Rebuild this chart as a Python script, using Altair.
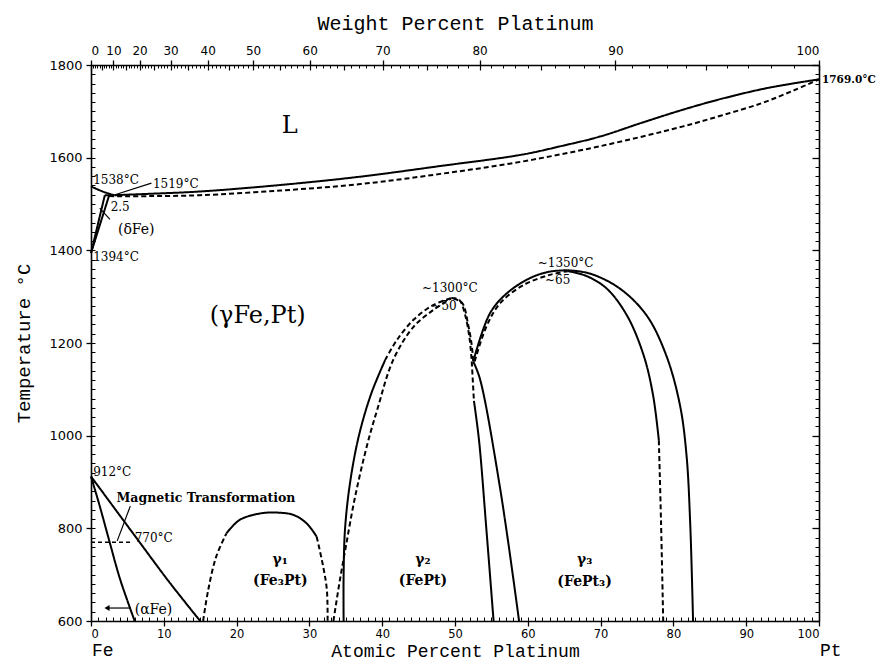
import altair as alt
import pandas as pd

FE, PT = 55.845, 195.08  # atomic masses used for the weight-percent axis

# ---------------- phase boundary curves (x = at.% Pt, T = deg C) ----------------
liq_fe_x = [0, 1.6, 3.2]
liq_fe_T = [1538, 1527, 1519]
liq_x = [3.2, 8, 15, 26, 37, 48, 59, 64.6, 70, 75.6, 81.2, 86.6, 92.2, 96, 100]
liq_T = [1519, 1522, 1527, 1541, 1559, 1582, 1606, 1625, 1646, 1675, 1703, 1727, 1748, 1759, 1769]
sol_x = [2.5, 8, 15, 26, 37, 48, 59, 70, 81.2, 86.6, 92.2, 96.5, 100]
sol_T = [1517, 1517, 1519, 1529, 1543, 1565, 1591, 1625, 1667, 1691, 1718, 1745, 1769]
delta1_x = [0, 1.9]
delta1_T = [1394, 1519]
delta2_x = [0, 2.5]
delta2_T = [1394, 1519]
perit_x = [1.9, 3.2]
perit_T = [1519, 1519]
alpha_x = [0, 1.2, 2.6, 4.0, 6.0]
alpha_T = [912, 848, 768, 690, 600]
gam_x = [0, 6.3, 10.8, 15.0]
gam_T = [912, 778, 683, 600]
g1a_x = [15.4, 16.1, 17.2, 18.6]
g1a_T = [600, 667, 739, 789]
g1b_x = [18.6, 20.4, 23.2, 25.5, 27.8, 29.6, 31.0]
g1b_T = [789, 818, 832, 834, 829, 811, 782]
g1c_x = [31.0, 31.9, 32.4, 32.5]
g1c_T = [782, 717, 667, 600]
g2a_x = [34.7, 34.7, 34.9, 35.6, 36.8, 38.5, 40.4]
g2a_T = [600, 700, 800, 900, 1000, 1091, 1163]
g2b_x = [40.4, 42.0, 44.3, 47.0, 49.5]
g2b_T = [1163, 1206, 1250, 1282, 1297]
g2c_x = [33.3, 34.1, 35.0, 36.3, 38.0, 39.3, 41.5, 44.3, 47.0, 49.5]
g2c_T = [600, 680, 760, 870, 984, 1055, 1163, 1235, 1271, 1297]
g2d_x = [49.5, 50.6, 51.4, 52.0, 52.3]
g2d_T = [1297, 1293, 1260, 1210, 1160]
g2e_x = [49.8, 51.0, 51.8, 52.3, 52.5]
g2e_T = [1296, 1286, 1240, 1195, 1160]
l1a_x = [52.3, 52.6]
l1a_T = [1160, 1075]
l1b_x = [52.6, 53.3, 54.3, 55.3]
l1b_T = [1075, 990, 800, 600]
l2_x = [52.5, 53.4, 56.2, 58.8]
l2_T = [1160, 1124, 886, 600]
g3a_x = [52.5, 54.8, 57.1, 60.3, 63.0, 65.5]
g3a_T = [1160, 1264, 1307, 1340, 1354, 1357]
g3b_x = [52.7, 54.3, 56.2, 59.4, 63.0, 65.5]
g3b_T = [1160, 1235, 1286, 1325, 1347, 1355]
g3c_x = [65.5, 68.0, 70.8, 73.6, 75.9, 77.2, 78.0]
g3c_T = [1355, 1345, 1318, 1260, 1174, 1088, 990]
g3d_x = [78.0, 78.3, 78.6]
g3d_T = [990, 814, 600]
g3e_x = [65.5, 68.5, 72.6, 76.3, 79.0, 80.9, 81.8, 82.3, 82.7]
g3e_T = [1357, 1350, 1318, 1260, 1174, 1066, 958, 814, 600]

segments = [
    ("liq_fe", "solid", liq_fe_x, liq_fe_T),
    ("liq", "solid", liq_x, liq_T),
    ("sol", "dashed", sol_x, sol_T),
    ("d1", "solid", delta1_x, delta1_T),
    ("d2", "solid", delta2_x, delta2_T),
    ("per", "solid", perit_x, perit_T),
    ("alpha", "solid", alpha_x, alpha_T),
    ("gam", "solid", gam_x, gam_T),
    ("g1a", "dashed", g1a_x, g1a_T),
    ("g1b", "solid", g1b_x, g1b_T),
    ("g1c", "dashed", g1c_x, g1c_T),
    ("g2a", "solid", g2a_x, g2a_T),
    ("g2b", "dashed", g2b_x, g2b_T),
    ("g2c", "dashed", g2c_x, g2c_T),
    ("g2d", "dashed", g2d_x, g2d_T),
    ("g2e", "dashed", g2e_x, g2e_T),
    ("l1a", "dashed", l1a_x, l1a_T),
    ("l1b", "solid", l1b_x, l1b_T),
    ("l2", "solid", l2_x, l2_T),
    ("g3a", "solid", g3a_x, g3a_T),
    ("g3b", "dashed", g3b_x, g3b_T),
    ("g3c", "solid", g3c_x, g3c_T),
    ("g3d", "dashed", g3d_x, g3d_T),
    ("g3e", "solid", g3e_x, g3e_T),
]
rows = []
for name, style, xs_, ts_ in segments:
    for i, (a, b) in enumerate(zip(xs_, ts_)):
        rows.append({"seg": name, "style": style, "i": i, "x": a, "T": b})
curves = pd.DataFrame(rows)

# ---------------- leader lines / magnetic line / arrow ----------------
lead_x1 = [8.3, 2.6, 5.4, 5.4]
lead_T1 = [1545, 1467, 848, 628]
lead_x2 = [3.3, 1.2, 3.6, 2.4]
lead_T2 = [1520, 1491, 773, 628]
leaders = pd.DataFrame({"x1": lead_x1, "T1": lead_T1, "x2": lead_x2, "T2": lead_T2})
mag_x1, mag_x2, mag_T = [0], [5.4], [770]
magnetic = pd.DataFrame({"x1": mag_x1, "x2": mag_x2, "T": mag_T})
arrow_x, arrow_T = [2.2], [628]
arrow = pd.DataFrame({"x": arrow_x, "T": arrow_T})

# ---------------- text ----------------
note_x = [0.3, 8.5, 2.7, 0.3, 0.3, 6.0]
note_T = [1551, 1543, 1494, 1386, 922, 779]
note_text = ["1538°C", "1519°C", "2.5", "1394°C", "912°C", "770°C"]
cnote_x = [49.3, 48.5, 65.2, 64.1]
cnote_T = [1318, 1279, 1372, 1336]
cnote_text = ["~1300°C", "~50", "~1350°C", "~65"]
phase_x = [26.0, 26.0, 45.6, 45.6, 67.8, 67.8]
phase_T = [732, 686, 732, 687, 732, 685]
phase_text = ["γ₁", "(Fe₃Pt)", "γ₂", "(FePt)", "γ₃", "(FePt₃)"]
paren_x = [3.7, 6.0]
paren_T = [1444, 624]
paren_text = ["(δFe)", "(αFe)"]
big_x = [27.3, 22.9]
big_T = [1668, 1258]
big_text = ["L", "(γFe,Pt)"]
mt_x, mt_T, mt_text = [3.5], [865], ["Magnetic Transformation"]
end_x, end_T, end_text = [0, 100], [525, 525], ["Fe", "Pt"]
pt_x, pt_T, pt_text = [100], [1768], ["1769.0°C"]

# ---------------- axes ----------------
at_major = list(range(0, 101, 10))
at_minor = list(range(0, 101, 1))
t_major = list(range(600, 1801, 200))
t_minor = list(range(600, 1801, 20))
wt_major = list(range(0, 101, 10))
wt_mid = list(range(0, 101, 5))
wt_minor = list(range(0, 101, 1))


def at_from_wt(w):
    return 100 * (w / PT) / ((w / PT) + ((100 - w) / FE))


top_major = [at_from_wt(w) for w in wt_major]
top_mid = [at_from_wt(w) for w in wt_mid]
top_minor = [at_from_wt(w) for w in wt_minor]

xs = alt.Scale(domain=[0, 100], nice=False, zero=False)
ys = alt.Scale(domain=[600, 1800], nice=False, zero=False)
AX = dict(domainColor="black", tickColor="black", labelColor="black", titleColor="black", grid=False)
NOLAB = dict(labels=False, domain=False, title=None, tickColor="black", grid=False)

main = alt.Chart(curves).mark_line(interpolate="catmull-rom", color="black", strokeWidth=2).encode(
    x=alt.X("x:Q", scale=xs, axis=alt.Axis(
        orient="bottom", values=at_major, tickSize=5, tickWidth=1.3, labelPadding=2, format="d",
        labelFont="DejaVu Sans", labelFontSize=11.5, domainWidth=1.6,
        title="Atomic Percent Platinum", titleFont="Liberation Mono", titleFontSize=18,
        titleFontWeight="normal", titleY=35, titleBaseline="alphabetic", **AX)),
    y=alt.Y("T:Q", scale=ys, axis=alt.Axis(
        orient="left", values=t_major, tickSize=5, tickWidth=1.3, labelPadding=4, format="d",
        labelFont="DejaVu Sans", labelFontSize=13, domainWidth=1.6,
        title="Temperature °C", titleFont="Liberation Mono", titleFontSize=19,
        titleFontWeight="normal", titleX=-68, titleY=278, titleAngle=270,
        titleBaseline="middle", titleAlign="center", **AX)),
    detail="seg:N",
    order="i:Q",
    strokeDash=alt.StrokeDash("style:N", scale=alt.Scale(domain=["solid", "dashed"], range=[[1, 0], [5, 3]]), legend=None),
)

ghost = alt.Chart(curves).mark_point(opacity=0, size=1)

minor_layer = ghost.encode(
    x=alt.X("x:Q", scale=xs, axis=alt.Axis(orient="bottom", values=at_minor, tickSize=4, offset=-4, tickWidth=1, **NOLAB)),
    y=alt.Y("T:Q", scale=ys, axis=alt.Axis(orient="left", values=t_minor, tickSize=4, offset=-4, tickWidth=1, **NOLAB)),
)
top_layer = ghost.encode(
    x=alt.X("x:Q", scale=xs, axis=alt.Axis(
        orient="top", values=top_major, tickSize=5, tickWidth=1.3, labelPadding=3,
        labelExpr="round(100*datum.value*195.08/(datum.value*195.08+(100-datum.value)*55.845))",
        labelFont="DejaVu Sans", labelFontSize=12, domainWidth=1.6,
        title="Weight Percent Platinum", titleFont="Liberation Mono", titleFontSize=20,
        titleFontWeight="normal", titleY=-36, titleBaseline="alphabetic", **AX)),
    y=alt.Y("T:Q", scale=ys, axis=alt.Axis(orient="right", values=t_major, tickSize=7, offset=-7, tickWidth=1.3, **NOLAB)),
)
top_minor_layer = ghost.encode(
    x=alt.X("x:Q", scale=xs, axis=alt.Axis(orient="top", values=top_minor, tickSize=3, offset=-3, tickWidth=1, **NOLAB)),
    y=alt.Y("T:Q", scale=ys, axis=alt.Axis(orient="right", values=t_minor, tickSize=4, offset=-4, tickWidth=1, **NOLAB)),
)
top_mid_layer = ghost.encode(
    x=alt.X("x:Q", scale=xs, axis=alt.Axis(orient="top", values=top_mid, tickSize=5, offset=-5, tickWidth=1.2, **NOLAB)),
    y=alt.Y("T:Q", scale=ys, axis=alt.Axis(orient="right", values=t_major, tickSize=0, labels=False, title=None,
                                          domain=True, domainColor="black", domainWidth=1.6, grid=False)),
)

NX = lambda f: alt.X(f, scale=xs, axis=None)
NY = lambda f: alt.Y(f, scale=ys, axis=None)

lead_layer = alt.Chart(leaders).mark_rule(color="black", strokeWidth=1.2).encode(
    x=NX("x1:Q"), x2="x2:Q", y=NY("T1:Q"), y2="T2:Q")
mag_layer = alt.Chart(magnetic).mark_rule(color="black", strokeWidth=1.5, strokeDash=[4, 3]).encode(
    x=NX("x1:Q"), x2="x2:Q", y=NY("T:Q"))
arrow_layer = alt.Chart(arrow).mark_point(shape="triangle-left", filled=True, size=35, color="black", opacity=1).encode(
    x=NX("x:Q"), y=NY("T:Q"))


def text_layer(xv, tv, lab, **kw):
    df = pd.DataFrame({"x": xv, "T": tv, "label": lab})
    return alt.Chart(df).mark_text(color="black", **kw).encode(x=NX("x:Q"), y=NY("T:Q"), text="label:N")


t_notes = text_layer(note_x, note_T, note_text, font="DejaVu Serif", fontSize=12, align="left", baseline="middle")
t_cnotes = text_layer(cnote_x, cnote_T, cnote_text, font="DejaVu Serif", fontSize=12, align="center", baseline="middle")
t_phase = text_layer(phase_x, phase_T, phase_text, font="DejaVu Serif", fontSize=14, fontWeight="bold", align="center", baseline="middle")
t_paren = text_layer(paren_x, paren_T, paren_text, font="DejaVu Serif", fontSize=14, align="left", baseline="middle")
t_big = text_layer(big_x, big_T, big_text, font="DejaVu Serif", fontSize=24, align="center", baseline="middle")
t_mt = text_layer(mt_x, mt_T, mt_text, font="DejaVu Serif", fontSize=12.5, fontWeight="bold", align="left", baseline="middle")
t_end = text_layer(end_x, end_T, end_text, font="Liberation Mono", fontSize=18, align="left", baseline="alphabetic", dx=1)
t_pt = text_layer(pt_x, pt_T, pt_text, font="DejaVu Serif", fontSize=10.5, fontWeight="bold", align="left", baseline="middle", dx=3)

chart = alt.layer(
    main, minor_layer, top_layer, top_minor_layer, top_mid_layer,
    lead_layer, mag_layer, arrow_layer,
    t_notes, t_cnotes, t_phase, t_paren, t_big, t_mt, t_end, t_pt,
).resolve_axis(x="independent", y="independent").properties(
    width=728, height=556,
    autosize=alt.AutoSizeParams(type="none"),
    padding={"left": 83, "top": 57, "right": 60, "bottom": 40},
    background="white",
).configure_view(stroke=None)

chart.save("out.html", embed_options={"renderer": "svg", "actions": False})
